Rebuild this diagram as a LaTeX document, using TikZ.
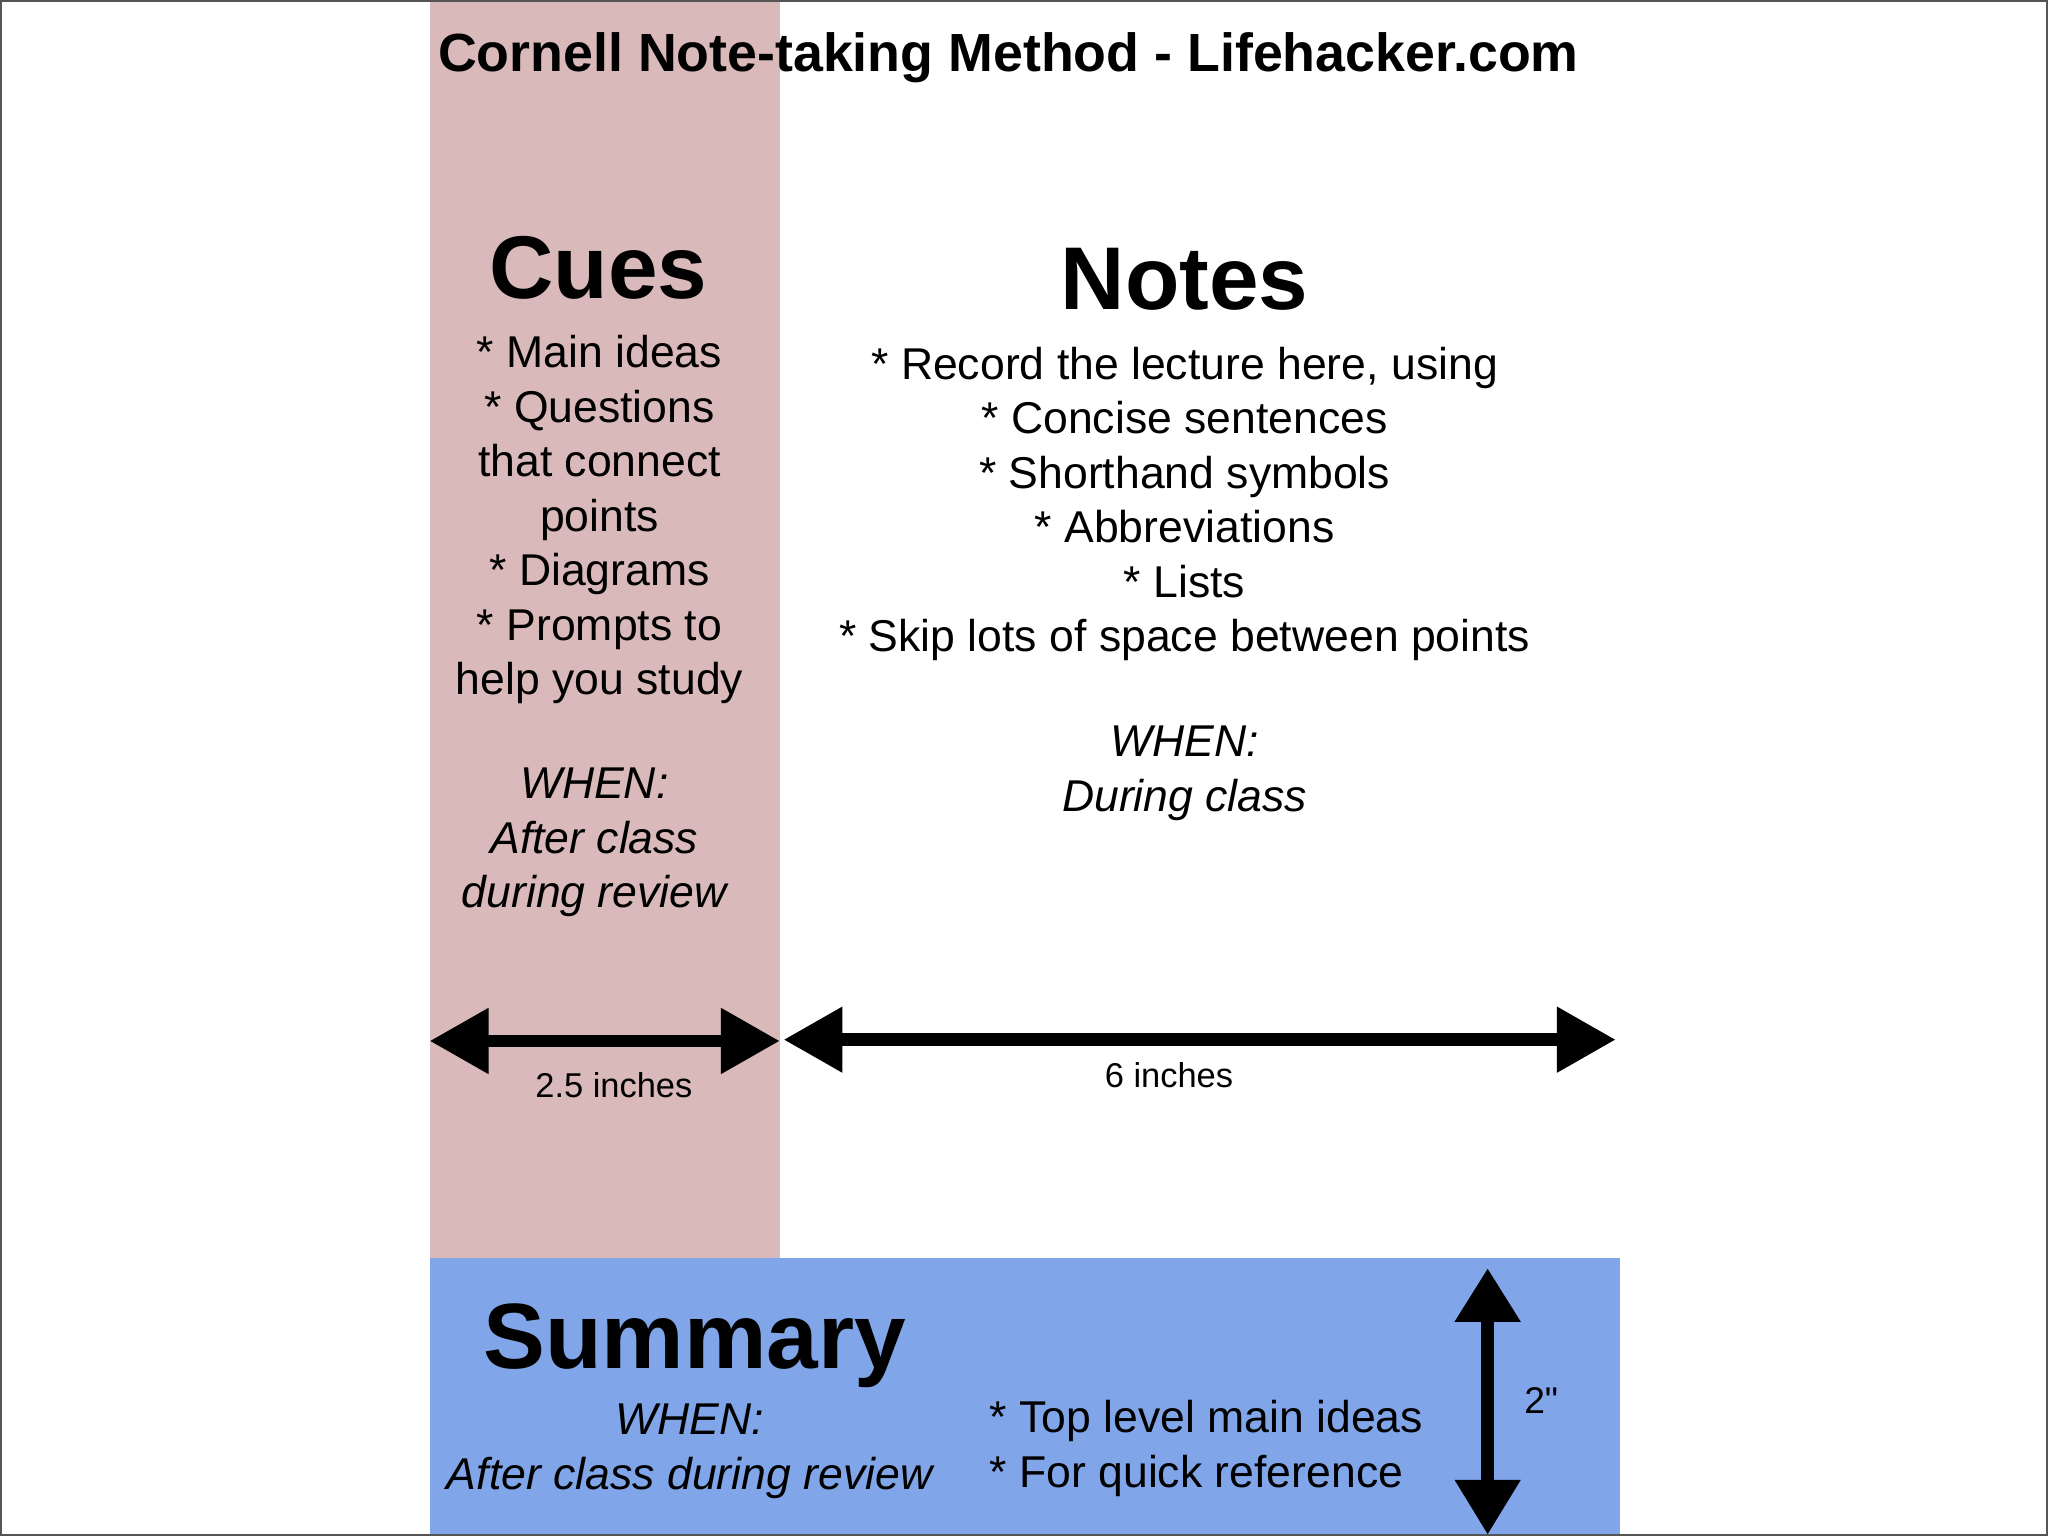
\documentclass[tikz,border=0pt]{standalone}
\usepackage{fontspec}
\setmainfont{Liberation Sans}
\usetikzlibrary{arrows.meta}
\definecolor{cuepink}{HTML}{D9B9B9}
\definecolor{sumblue}{HTML}{80A5E8}
\definecolor{framegray}{HTML}{555555}
\tikzset{
  basic/.style     = {inner sep=0pt, align=center, text=black},
  titletext/.style = {basic, font=\bfseries\fontsize{11.7}{14}\selectfont},
  heading/.style   = {basic, font=\bfseries\fontsize{19.4}{23}\selectfont},
  sumhead/.style   = {basic, font=\bfseries\fontsize{20.2}{24}\selectfont},
  items/.style     = {basic, font=\fontsize{9.7}{11.86}\selectfont},
  when/.style      = {items, font=\itshape\fontsize{9.7}{11.86}\selectfont},
  dimlabel/.style  = {basic, font=\fontsize{7.5}{9}\selectfont},
  dimarrow/.style  = {line width=0.095cm,
                      {Triangle[length=0.45cm,width=0.48cm]}-{Triangle[length=0.45cm,width=0.48cm]}}
}

\begin{document}
\begin{tikzpicture}[x=0.01cm,y=-0.01cm]
\useasboundingbox (0,0) rectangle (1568,1176);
% areas of the page
\fill[cuepink] (329,0) rectangle (597,963);
\fill[sumblue] (329,963) rectangle (1240,1176);
\draw[framegray,line width=0.4pt] (0.7,0.7) rectangle (1567.3,1175.3);

\node[titletext] (title) at (772,44) {Cornell Note-taking Method - Lifehacker.com};

% cue column
\node[heading] (cues) at (458,205) {Cues};
\node[items] (cuelist) at (459,398) {* Main ideas\\* Questions\\that connect\\points\\* Diagrams\\* Prompts to\\help you study};
\node[when] (cuewhen) at (455,645) {WHEN:\\After class\\during review};

% note column
\node[heading] (notes) at (907,214) {Notes};
\node[items] (notelist) at (907,386) {* Record the lecture here, using\\* Concise sentences\\* Shorthand symbols\\* Abbreviations\\* Lists\\* Skip lots of space between points};
\node[when] (notewhen) at (907,592) {WHEN:\\During class};

% summary
\node[sumhead] (summary) at (532,1030) {Summary};
\node[when] (sumwhen) at (528,1111) {WHEN:\\After class during review};
\node[items, align=left, anchor=west] (sumlist) at (757,1109) {* Top level main ideas\\* For quick reference};

% widths and height
\coordinate (cueL) at (329,797);
\coordinate (cueR) at (597,797);
\coordinate (noteL) at (600,796);
\coordinate (noteR) at (1237,796);
\coordinate (sumT) at (1139,971);
\coordinate (sumB) at (1139,1175);
\draw[dimarrow] (cueL) -- (cueR);
\draw[dimarrow] (noteL) -- (noteR);
\draw[line width=0.095cm, {Triangle[length=0.41cm,width=0.48cm]}-{Triangle[length=0.42cm,width=0.48cm]}] (sumT) -- (sumB);
\node[dimlabel] (cuewidth) at (470,831) {2.5 inches};
\node[dimlabel] (notewidth) at (895,823) {6 inches};
\node[dimlabel, font=\fontsize{8.1}{10}\selectfont] (sumheight) at (1180,1072) {2\textquotedbl};
\end{tikzpicture}
\end{document}
